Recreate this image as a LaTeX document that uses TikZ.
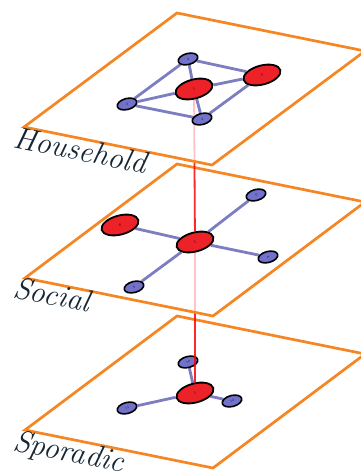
\documentclass[tikz,border=0pt]{standalone}
\usepackage{fontspec}
\usetikzlibrary{shapes.geometric}
\definecolor{planeorange}{RGB}{246,134,36}
\definecolor{nodered}{RGB}{236,34,40}
\definecolor{nodeblue}{RGB}{114,114,204}
\definecolor{edgeblue}{RGB}{92,92,178}
\definecolor{labelink}{RGB}{22,38,52}
% stacking order: each layer's plane, then its links, then its nodes
\pgfdeclarelayer{spplane}\pgfdeclarelayer{splink}\pgfdeclarelayer{spnode}
\pgfdeclarelayer{soplane}\pgfdeclarelayer{solink}\pgfdeclarelayer{sonode}
\pgfdeclarelayer{hoplane}\pgfdeclarelayer{holink}
\pgfsetlayers{spplane,splink,spnode,soplane,solink,sonode,hoplane,holink,main}
\tikzset{
  plane/.style={draw=planeorange, line width=2.7pt, fill=white, fill opacity=0.72, line join=miter},
  bignode/.style={ellipse, draw=black, line width=1.8pt, fill=nodered,
    minimum width=38pt, minimum height=19pt, inner sep=0pt, rotate=15,
    font=\fontsize{3.5}{4}\selectfont},
  smallnode/.style={ellipse, draw=black, line width=1.6pt, fill=nodeblue,
    minimum width=20pt, minimum height=11pt, inner sep=0pt, rotate=15,
    font=\fontsize{3}{3}\selectfont},
  link/.style={draw=edgeblue, line width=2.8pt, draw opacity=0.8},
  tie/.style={draw=red, line width=1.8pt, draw opacity=0.85},
  layername/.style={anchor=base west, rotate=-11.4, text=labelink,
    font=\fontsize{31}{33}\selectfont\itshape, inner sep=0pt}
}
\begin{document}
\begin{tikzpicture}[x=1pt, y=-1pt]
  \clip (0,0) rectangle (360,473);
  \useasboundingbox (0,0) rectangle (360,473);

  % --- Sporadic layer ---
  \begin{pgfonlayer}{spplane}
    \draw[plane] (25,430) -- (177,316) -- (365,354) -- (213,468) -- cycle;
  \end{pgfonlayer}
  \begin{pgfonlayer}{spnode}
    \node[bignode]   (p1) at (195,393) {1};
    \node[smallnode] (p2) at (188,362) {10};
    \node[smallnode] (p3) at (127,408) {11};
    \node[smallnode] (p4) at (232,401) {12};
  \end{pgfonlayer}
  \begin{pgfonlayer}{splink}
    \path[link] (p1) -- (p2) (p1) -- (p3) (p1) -- (p4);
  \end{pgfonlayer}

  % --- Social layer ---
  \begin{pgfonlayer}{soplane}
    \draw[plane] (25,278) -- (177,164) -- (365,202) -- (213,316) -- cycle;
  \end{pgfonlayer}
  \begin{pgfonlayer}{sonode}
    \node[bignode]   (s1) at (195,242) {1};
    \node[bignode]   (s6) at (120,225) {6};
    \node[smallnode] (s7) at (256,195) {7};
    \node[smallnode] (s8) at (268,257) {8};
    \node[smallnode] (s9) at (134,287) {9};
  \end{pgfonlayer}
  \begin{pgfonlayer}{solink}
    \path[link] (s1) -- (s6) (s1) -- (s7) (s1) -- (s8) (s1) -- (s9);
  \end{pgfonlayer}
  % tie between the social and sporadic hubs, seen through the social plane
  \begin{pgfonlayer}{spnode}
    \path[tie] (s1) -- (p1);
  \end{pgfonlayer}

  % --- Household layer ---
  \begin{pgfonlayer}{hoplane}
    \draw[plane] (24,127) -- (177,13) -- (365,51) -- (212,165) -- cycle;
  \end{pgfonlayer}
  \node[bignode]   (h1) at (194,89) {1};
  \node[smallnode] (h2) at (188,59) {2};
  \node[smallnode] (h3) at (127,104) {3};
  \node[smallnode] (h4) at (202,119) {4};
  \node[bignode]   (h5) at (262,75) {5};
  \begin{pgfonlayer}{holink}
    \path[link] (h2) -- (h1) (h2) -- (h3) (h2) -- (h5)
                (h1) -- (h3) (h1) -- (h5) (h1) -- (h4)
                (h3) -- (h4) (h4) -- (h5);
  \end{pgfonlayer}
  % tie between the household and social hubs, seen through the household plane
  \begin{pgfonlayer}{sonode}
    \path[tie] (h1) -- (s1);
  \end{pgfonlayer}

  % --- layer names ---
  \node[layername] (lh) at (12,147) {Household};
  \node[layername] (ls) at (12,297) {Social};
  \node[layername] (lp) at (12,450) {Sporadic};
\end{tikzpicture}
\end{document}
